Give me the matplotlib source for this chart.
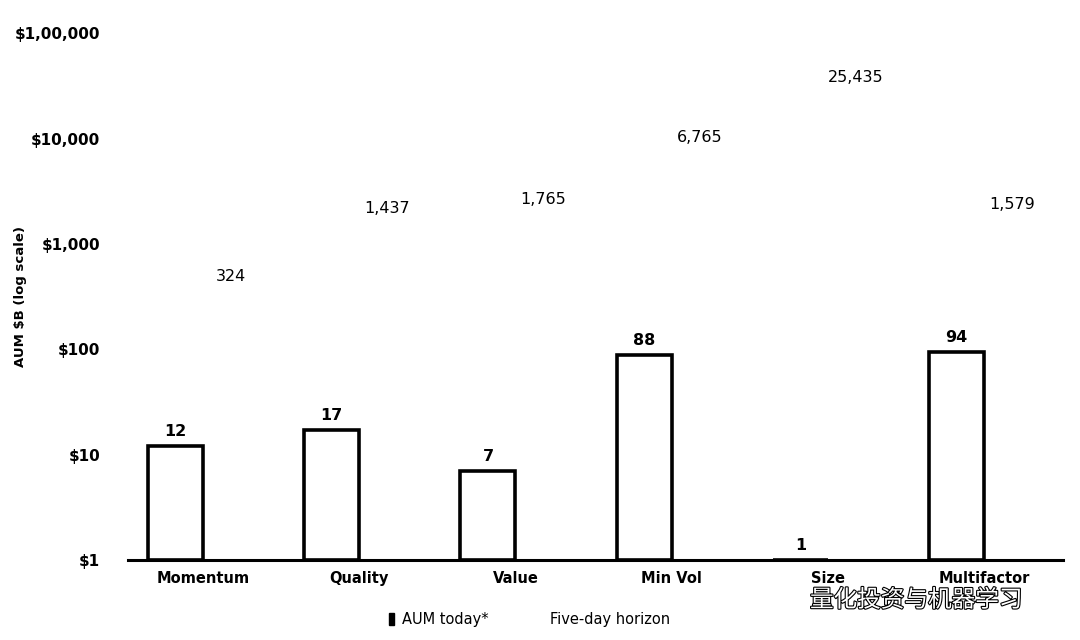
import numpy as np
import matplotlib.pyplot as plt
import matplotlib.patheffects as pe
from matplotlib.patches import Patch

# data
categories = ['Momentum', 'Quality', 'Value', 'Min Vol', 'Size', 'Multifactor']
aum_today = [12, 17, 7, 88, 1, 94]
five_day = [324, 1437, 1765, 6765, 25435, 1579]
ytick_vals = [1, 10, 100, 1000, 10000, 100000]
ytick_labels = ['$1', '$10', '$100', '$1,000', '$10,000', '$1,00,000']

plt.rcParams['font.family'] = ['DejaVu Sans']

fig = plt.figure(figsize=(10.8, 6.4), dpi=100)
ax = fig.add_axes([0.1185, 0.125, 0.866, 0.823])

x = np.arange(len(categories))
w = 0.352

# five-day horizon bars are drawn white (invisible in the original)
ax.bar(x + w / 2, [v - 1 for v in five_day], width=w, bottom=1,
       color='white', edgecolor='white', linewidth=0.5, zorder=2)
bars = ax.bar(x - w / 2, [v - 1 for v in aum_today], width=w, bottom=1,
              color='white', edgecolor='black', linewidth=2.6, zorder=3)

for xi, v in zip(x, aum_today):
    ax.annotate(str(v), (xi - w / 2, v), xytext=(0, 5), textcoords='offset points',
                ha='center', va='bottom', fontsize=11.5, fontweight='bold')
for xi, v in zip(x, five_day):
    ax.annotate(f'{v:,}', (xi + w / 2, v), xytext=(0, 8), textcoords='offset points',
                ha='center', va='bottom', fontsize=11.5)

ax.set_yscale('log')
ax.set_ylim(1, 100000)
ax.set_xlim(-0.48, 5.506)
ax.set_yticks(ytick_vals)
ax.set_yticklabels([s.replace('$', r'\$') for s in ytick_labels],
                   fontsize=11, fontweight='bold')
ax.yaxis.set_minor_locator(plt.NullLocator())
ax.set_xticks(x)
ax.set_xticklabels(categories, fontsize=10.5, fontweight='bold')
ax.tick_params(axis='both', length=0)
ax.tick_params(axis='y', pad=20)
ax.tick_params(axis='x', pad=8)

for s in ['top', 'right', 'left']:
    ax.spines[s].set_visible(False)
ax.spines['bottom'].set_linewidth(2.2)
ax.spines['bottom'].set_zorder(4)

ax.set_ylabel(r'AUM \$B (log scale)', fontsize=9.5, fontweight='bold')
ax.yaxis.set_label_coords(-0.108, 0.5)

handles = [Patch(facecolor='black', edgecolor='black'),
           Patch(facecolor='white', edgecolor='white')]
fig.legend(handles, ['AUM today*', 'Five-day horizon'], loc='center',
           bbox_to_anchor=(0.49, 0.032), ncol=2, frameon=False, fontsize=10.5,
           handlelength=0.35, handleheight=0.8, handletextpad=0.6, columnspacing=3.2)

# watermark
fig.text(0.75, 0.062, '量化投资与机器学习', fontsize=17, color='white',
         family=['Noto Sans CJK SC', 'DejaVu Sans'], ha='left', va='center',
         path_effects=[pe.withStroke(linewidth=1.6, foreground='black')], zorder=10)

fig.savefig('out.png', dpi=100, facecolor='white')
